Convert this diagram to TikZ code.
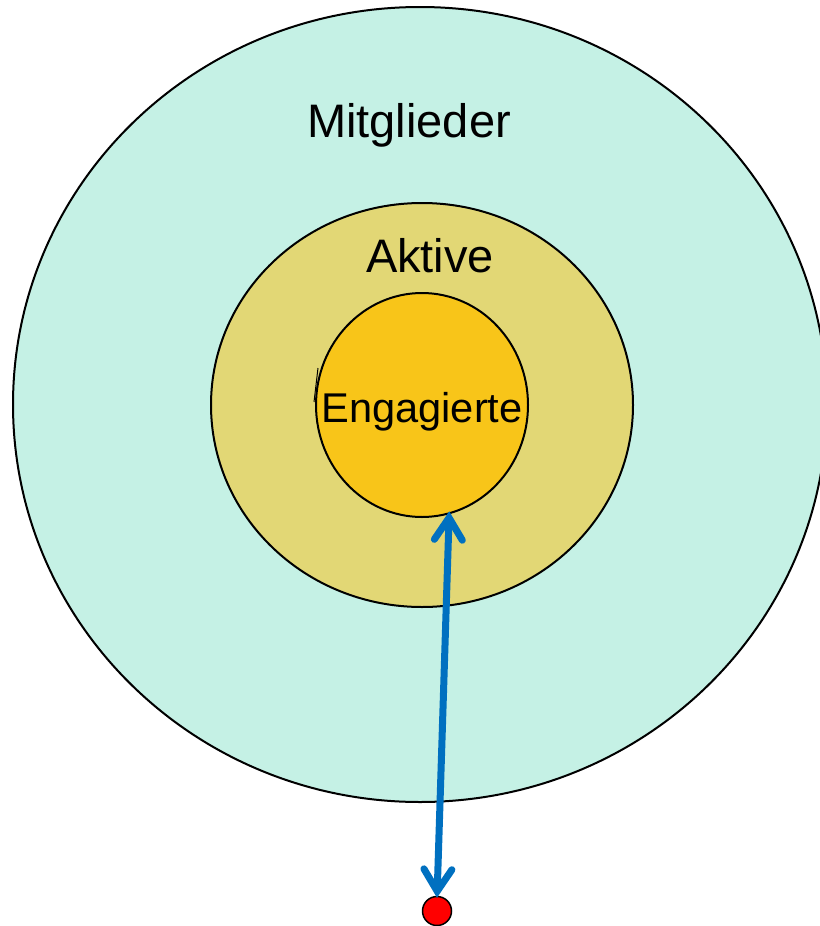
\documentclass[tikz,border=0pt]{standalone}
\usepackage{fontspec}
\setmainfont{Liberation Sans}
\usetikzlibrary{shapes.geometric,arrows.meta}
\definecolor{outerfill}{HTML}{C5F1E5}
\definecolor{midfill}{HTML}{E2D775}
\definecolor{innerfill}{HTML}{F8C519}
\definecolor{arrowblue}{HTML}{0070C0}
\begin{document}
\begin{tikzpicture}[x=1pt,y=-1pt,
  ring/.style={ellipse,draw=black,line width=2pt,inner sep=0pt},
  lbl/.style={anchor=base,inner sep=0pt,font=\fontsize{47}{56}\selectfont},
  link/.style={draw=arrowblue,line width=7pt,line cap=round,
    {Straight Barb[length=22pt,width=28pt,line cap=round]}-{Straight Barb[length=22pt,width=28pt,line cap=round]}}]
\useasboundingbox (0,0) rectangle (819,926);
\node[ring,fill=outerfill,minimum width=814pt,minimum height=795pt] (outer) at (420,404.5) {};
\node[ring,fill=midfill,minimum width=422pt,minimum height=404pt] (mid) at (422,405) {};
\node[ring,fill=innerfill,minimum width=212pt,minimum height=224pt] (inner) at (422,405) {};
\node[lbl] (tmit) at (409,137) {Mitglieder};
\node[lbl] (takt) at (430,272) {Aktive};
\node[lbl,font=\fontsize{41.6}{50}\selectfont] (teng) at (422,422) {Engagierte};
\coordinate (m1) at (318,368);
\coordinate (m2) at (314,402);
\draw[line width=1pt] (m1) -- (m2);
\node[circle,draw=black,line width=1.5pt,fill=red,minimum size=29pt,inner sep=0pt] (dot) at (437,911) {};
\draw[link] ([yshift=3pt]inner.-76) -- ([yshift=-2pt]dot.north);
\end{tikzpicture}
\end{document}
